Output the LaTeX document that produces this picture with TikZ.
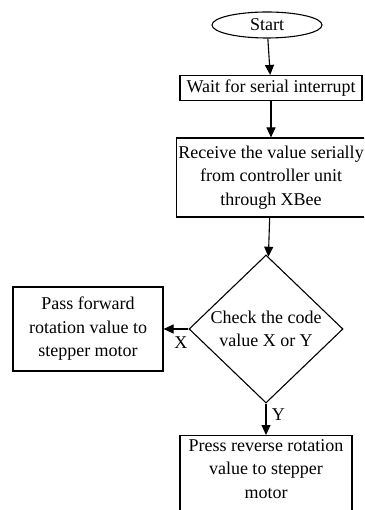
\documentclass[tikz,border=0pt]{standalone}
\usepackage{fontspec}
\setmainfont{Liberation Serif}
\usetikzlibrary{arrows.meta, shapes.geometric, positioning}
\tikzset{
    box/.style={draw, rectangle, align=center, inner xsep=1.5pt, inner ysep=0pt, line width=1.1pt},
    term/.style={draw, ellipse, inner sep=0pt, line width=1.1pt},
    decide/.style={draw, diamond, align=center, inner sep=0pt, line width=1.1pt},
    flow/.style={-{Triangle[length=10pt, width=9pt]}, line width=1.1pt}
}
\newcommand{\step}[5]{
    \node[box, minimum width=#3, minimum height=#4] (#1) at (#2) {#5};
}
\begin{document}
\begin{tikzpicture}[x=1pt, y=-1pt, font=\fontsize{18}{23.5}\selectfont]
    \useasboundingbox (0, 0) rectangle (364, 510);
    \clip (0, 0) rectangle (364, 510);
    \node[term, minimum width=110, minimum height=26] (start) at (267, 25) {Start};
    \step{wait}{271, 88}{182}{25}{Wait for serial interrupt}
    \step{recv}{271, 177.5}{182}{79}{Receive the value serially\\from controller unit\\through XBee}
    \node[decide, minimum width=154, minimum height=148] (check) at (266, 329) {Check the code\\value X or Y};
    \step{fwd}{88, 329}{150}{84}{Pass forward\\rotation value to\\stepper motor}
    \node[box, anchor=north, minimum width=172, inner ysep=4pt, text depth=40pt] (rev) at (266, 435) {Press reverse rotation\\value to stepper\\motor};
    \draw[flow] (start) -- (wait);
    \draw[flow] (wait) -- (recv);
    \draw[flow] (recv) -- (check);
    \draw[flow] (check.west) -- (fwd.east) node[pos=0.3, below=4pt] {X};
    \draw[flow] (check.south) -- (rev.north) node[pos=0.35, right=2pt] {Y};
\end{tikzpicture}
\end{document}
